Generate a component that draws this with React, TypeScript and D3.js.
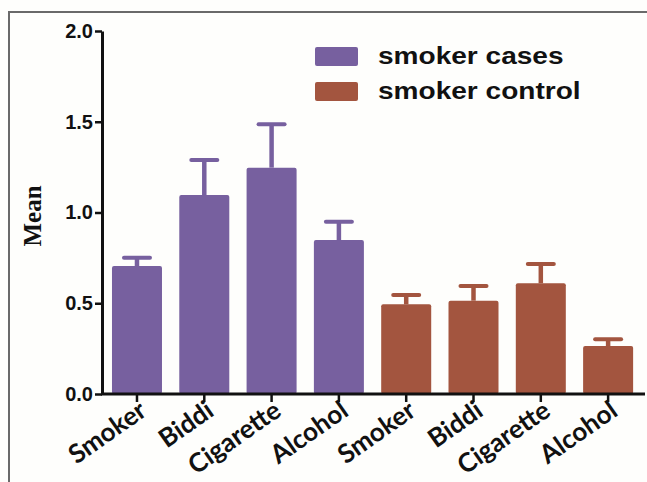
import * as d3 from 'd3'
import React, { useEffect, useRef } from 'react'

const categories = ['Smoker', 'Biddi', 'Cigarette', 'Alcohol']
const groups = ['smoker cases', 'smoker control']
const casesMean = [0.705, 1.096, 1.247, 0.848]
const casesErr = [0.046, 0.193, 0.239, 0.101]
const controlMean = [0.494, 0.514, 0.61, 0.264]
const controlErr = [0.051, 0.081, 0.106, 0.037]
const yTicks = [0, 0.5, 1.0, 1.5, 2.0]
const colors = ['#77609f', '#a3553f']

const width = 647
const height = 482

export default function App () {
  const node = useRef<SVGSVGElement>(null)

  useEffect(() => {
    const svg = d3.select(node.current)
    svg.selectAll('*').remove()

    // flatten the two groups into one row of bars
    const bars = [
      ...categories.map((c, i) => ({ label: c, mean: casesMean[i], err: casesErr[i], g: 0 })),
      ...categories.map((c, i) => ({ label: c, mean: controlMean[i], err: controlErr[i], g: 1 }))
    ]

    const x = d3.scaleBand<number>()
      .domain(d3.range(bars.length))
      .range([103.5, 641.6])
      .paddingInner(0.257)
      .paddingOuter(0.126)
    const y = d3.scaleLinear().domain([0, 2]).range([394, 31])

    svg.append('rect').attr('width', width).attr('height', height).attr('fill', '#fefefc')

    // frame of the figure
    svg.append('path')
      .attr('d', `M9,${height}V12H${width}`)
      .attr('fill', 'none').attr('stroke', '#6a6a6a').attr('stroke-width', 2)

    svg.append('g').selectAll('rect').data(bars).enter()
      .append('rect')
      .attr('x', (d, i) => x(i))
      .attr('y', d => y(d.mean))
      .attr('width', x.bandwidth())
      .attr('height', d => y(0) - y(d.mean))
      .attr('rx', 2)
      .attr('fill', d => colors[d.g])

    const err = svg.append('g').selectAll('g').data(bars).enter().append('g')
    err.append('line')
      .attr('x1', (d, i) => x(i) + x.bandwidth() / 2)
      .attr('x2', (d, i) => x(i) + x.bandwidth() / 2)
      .attr('y1', d => y(d.mean))
      .attr('y2', d => y(d.mean + d.err))
      .attr('stroke', d => colors[d.g]).attr('stroke-width', 4.5)
    err.append('line')
      .attr('x1', (d, i) => x(i) + x.bandwidth() / 2 - 13)
      .attr('x2', (d, i) => x(i) + x.bandwidth() / 2 + 13)
      .attr('y1', d => y(d.mean + d.err))
      .attr('y2', d => y(d.mean + d.err))
      .attr('stroke', d => colors[d.g]).attr('stroke-width', 4)
      .attr('stroke-linecap', 'round')

    const yAxis = svg.append('g')
      .attr('transform', 'translate(102,0)')
      .call(d3.axisLeft(y).tickValues(yTicks).tickFormat(d3.format('.1f')).tickSize(7).tickSizeOuter(0).tickPadding(2))
    yAxis.select('.domain').attr('stroke', '#111').attr('stroke-width', 3)
    yAxis.selectAll('.tick line').attr('stroke', '#111').attr('stroke-width', 2.5)
    yAxis.selectAll('.tick text')
      .attr('fill', '#111')
      .style('font-family', 'Liberation Sans, Arial, sans-serif')
      .style('font-weight', 'bold')
      .style('font-size', '20px')

    const xAxis = svg.append('g')
      .attr('transform', 'translate(0,394)')
      .call(d3.axisBottom(x).tickFormat(i => bars[i].label).tickSize(8).tickSizeOuter(0))
    xAxis.select('.domain').remove()
    xAxis.selectAll('.tick line').attr('stroke', '#111').attr('stroke-width', 2.5)
    xAxis.selectAll('.tick text')
      .attr('fill', '#111')
      .attr('text-anchor', 'end')
      .attr('x', 0)
      .attr('y', 0)
      .attr('dy', '0.35em')
      .attr('transform', 'translate(6,13) rotate(-35)')
      .style('font-family', 'Lato, sans-serif')
      .style('font-weight', 'bold')
      .style('font-size', '26px')
    svg.append('line')
      .attr('x1', 101).attr('x2', 645).attr('y1', 394).attr('y2', 394)
      .attr('stroke', '#111').attr('stroke-width', 3)

    svg.append('text')
      .attr('transform', 'translate(41,216) rotate(-90)')
      .attr('text-anchor', 'middle')
      .style('font-family', 'Liberation Serif, Times New Roman, serif')
      .style('font-weight', 'bold')
      .style('font-size', '25px')
      .attr('fill', '#111')
      .text('Mean')

    const legend = svg.append('g').selectAll('g').data(groups).enter().append('g')
      .attr('transform', (d, i) => `translate(315,${47 + i * 35})`)
    legend.append('rect')
      .attr('width', 43).attr('height', 19).attr('rx', 2)
      .attr('fill', (d, i) => colors[i])
    // the legend lettering is wide in the source, so stretch it sideways
    legend.append('text')
      .attr('transform', 'translate(63,9) scale(1.22,1)')
      .attr('dy', '0.36em')
      .style('font-family', 'Liberation Sans, Arial, sans-serif')
      .style('font-weight', 'bold')
      .style('font-size', '23px')
      .attr('fill', '#111')
      .text(d => d)
  }, [])

  return (
    <svg
      ref={node}
      width={width}
      height={height}
      style={{ position: 'absolute', left: 0, top: 0 }}
    />
  )
}
